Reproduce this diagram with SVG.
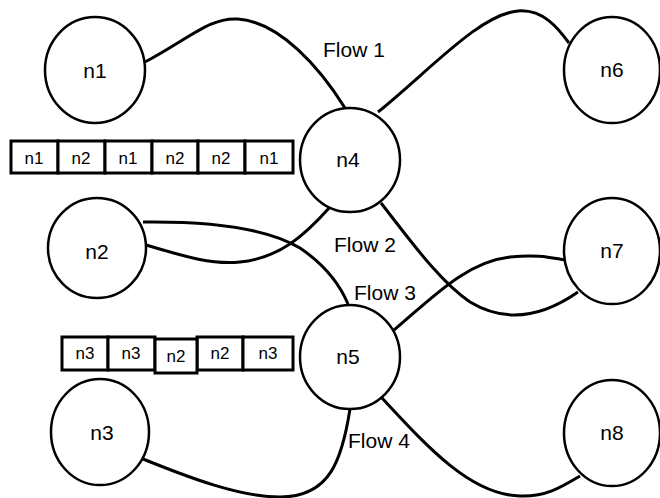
<svg xmlns="http://www.w3.org/2000/svg" width="660" height="498" viewBox="0 0 660 498">
<style>
.node{fill:#fff;stroke:#000;stroke-width:2.5}
.lbl{font-family:"Liberation Sans",Arial,sans-serif;font-size:21px;text-anchor:middle;fill:#000}
.flow{font-family:"Liberation Sans",Arial,sans-serif;font-size:21px;fill:#000}
.cell{fill:#fff;stroke:#000;stroke-width:3}
.ct{font-family:"Liberation Sans",Arial,sans-serif;font-size:17px;text-anchor:middle;fill:#000}
.edge{fill:none;stroke:#000;stroke-width:3}
</style>
<rect width="660" height="498" fill="#fff"/>
<g id="connectors">
<path class="edge" d="M145,62 C190,38 210,17 238,19 C280,22 320,68 345,108"/>
<path class="edge" d="M378,112 C430,70 480,14 518,11 C543,9 558,28 569,43"/>
<path class="edge" d="M146,245 C180,255 210,265 240,262 C280,258 305,235 330,207"/>
<path class="edge" d="M143,222 C220,221 270,230 300,248 C325,265 340,285 348,304"/>
<path class="edge" d="M381,203 C410,240 440,282 470,302 C500,320 535,322 578,292"/>
<path class="edge" d="M394,330 C430,300 465,262 510,257 C540,254 552,258 565,260"/>
<path class="edge" d="M382,398 C430,450 472,495 520,496 C545,497 560,488 580,476"/>
<path class="edge" d="M143,459 C190,478 240,497 280,497 C330,497 342,460 350,409"/>
</g>
<g id="n1"><ellipse class="node" cx="95" cy="70" rx="50" ry="53"/><text class="lbl" x="95" y="78">n1</text></g>
<g id="n2"><ellipse class="node" cx="97" cy="248" rx="49" ry="50"/><text class="lbl" x="97" y="259">n2</text></g>
<g id="n3"><ellipse class="node" cx="100" cy="432" rx="49" ry="53"/><text class="lbl" x="102" y="440">n3</text></g>
<g id="n4"><ellipse class="node" cx="350" cy="160" rx="50" ry="52"/><text class="lbl" x="348" y="167">n4</text></g>
<g id="n5"><ellipse class="node" cx="350" cy="357" rx="50" ry="52"/><text class="lbl" x="348" y="364">n5</text></g>
<g id="n6"><ellipse class="node" cx="612" cy="70" rx="48" ry="53"/><text class="lbl" x="612" y="77">n6</text></g>
<g id="n7"><ellipse class="node" cx="612" cy="251" rx="48" ry="53"/><text class="lbl" x="612" y="258">n7</text></g>
<g id="n8"><ellipse class="node" cx="612" cy="433" rx="48" ry="53"/><text class="lbl" x="612" y="440">n8</text></g>
<g id="queue1">
<rect class="cell" x="11" y="141" width="47" height="32"/>
<rect class="cell" x="58" y="141" width="47" height="32"/>
<rect class="cell" x="105" y="141" width="47" height="32"/>
<rect class="cell" x="152" y="141" width="46" height="32"/>
<rect class="cell" x="198" y="141" width="47" height="32"/>
<rect class="cell" x="245" y="141" width="48" height="32"/>
<text class="ct" x="34" y="164">n1</text>
<text class="ct" x="81" y="164">n2</text>
<text class="ct" x="128" y="164">n1</text>
<text class="ct" x="175" y="164">n2</text>
<text class="ct" x="221" y="164">n2</text>
<text class="ct" x="269" y="164">n1</text>
</g>
<g id="queue2">
<rect class="cell" x="62" y="337" width="46" height="33"/>
<rect class="cell" x="108" y="337" width="47" height="33"/>
<rect class="cell" x="197" y="337" width="46" height="33"/>
<rect class="cell" x="243" y="337" width="50" height="33"/>
<rect class="cell" x="155" y="339" width="42" height="34"/>
<text class="ct" x="85" y="359">n3</text>
<text class="ct" x="131" y="359">n3</text>
<text class="ct" x="176" y="362">n2</text>
<text class="ct" x="220" y="359">n2</text>
<text class="ct" x="268" y="359">n3</text>
</g>
<g id="flow-labels">
<text class="flow" x="323" y="57">Flow 1</text>
<text class="flow" x="334" y="252">Flow 2</text>
<text class="flow" x="354" y="300">Flow 3</text>
<text class="flow" x="348" y="448">Flow 4</text>
</g>
</svg>
